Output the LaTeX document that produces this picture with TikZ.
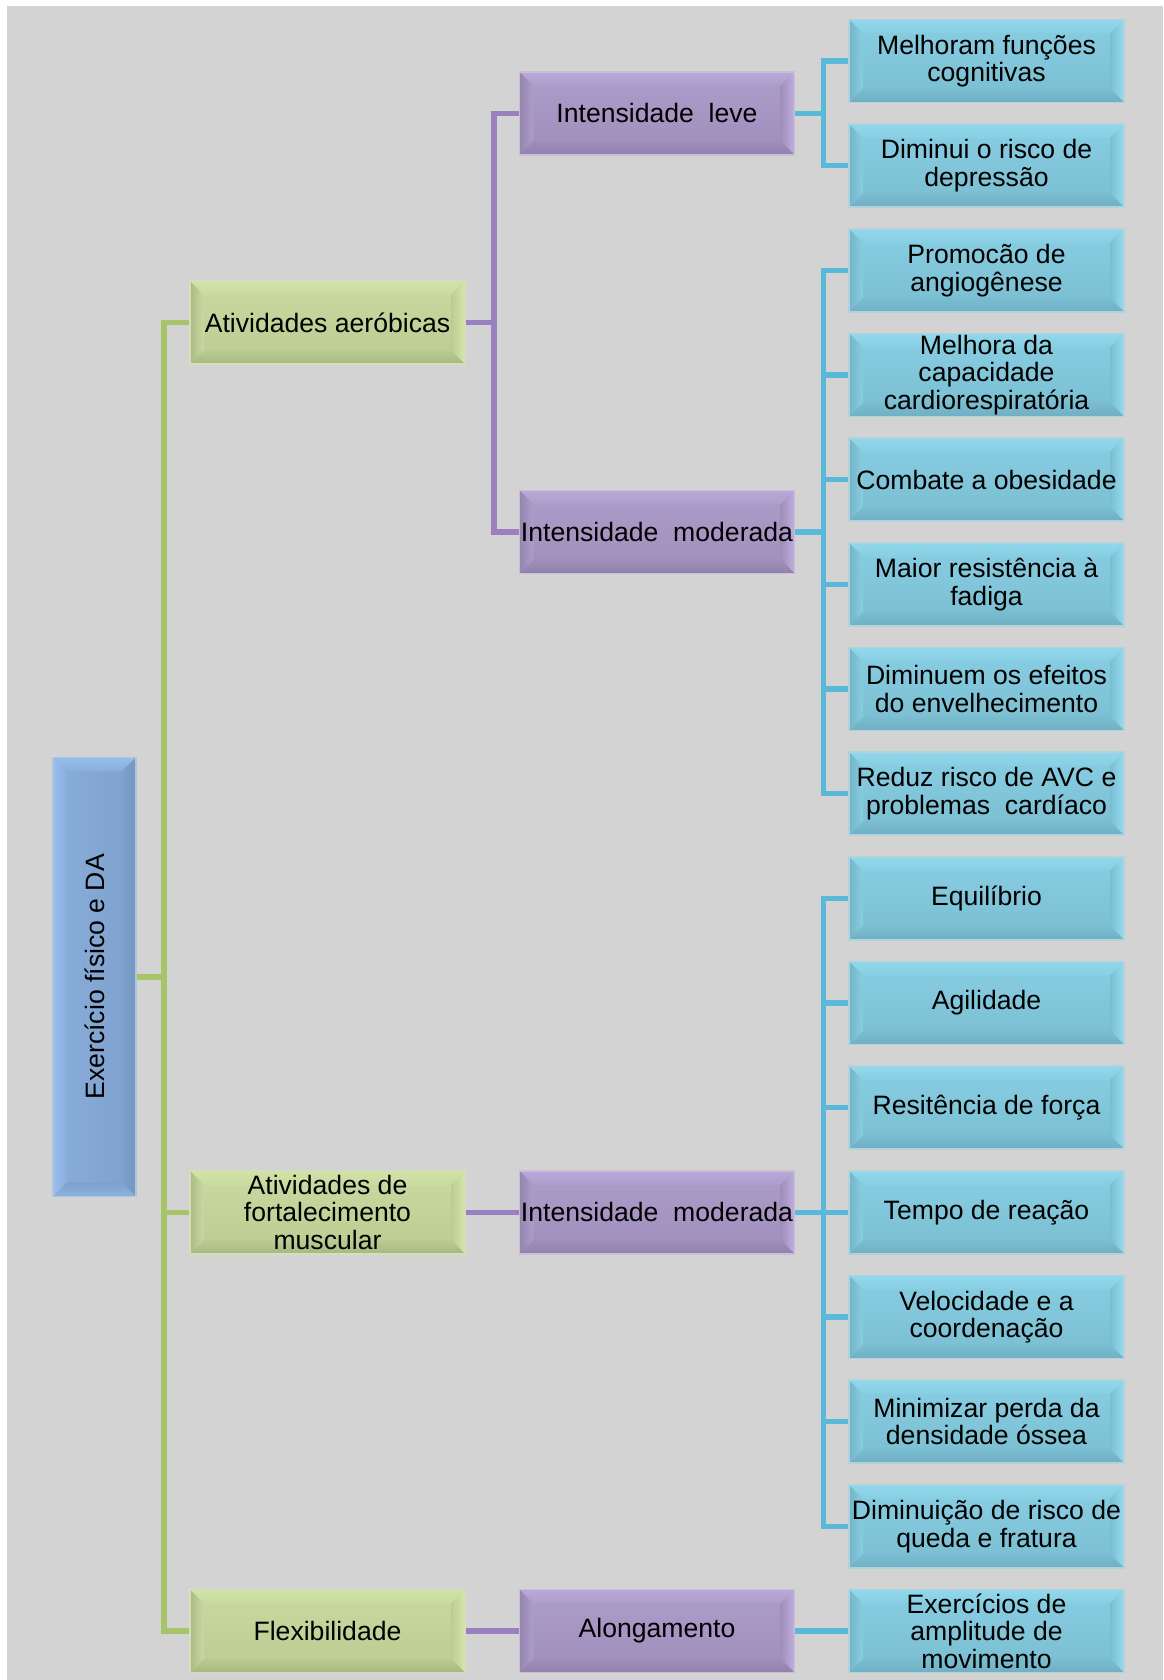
\documentclass[tikz,border=0pt]{standalone}
\usepackage{fontspec}
\setmainfont{Liberation Sans}
\usetikzlibrary{calc}
\definecolor{bgray}{HTML}{D3D3D3}
\definecolor{glinec}{HTML}{A8C46A}
\definecolor{plinec}{HTML}{9B80C0}
\definecolor{blinec}{HTML}{5AB8D8}
% blue
\definecolor{bMt}{HTML}{88CEE2}\definecolor{bMb}{HTML}{7ABDD1}
\definecolor{bT}{HTML}{91D8ED}\definecolor{bR}{HTML}{95DDF1}
\definecolor{bB}{HTML}{70AFC3}\definecolor{bL}{HTML}{73B4C8}
\definecolor{bBd}{HTML}{B2D2DC}
% purple
\definecolor{pMt}{HTML}{AD9DCB}\definecolor{pMb}{HTML}{9F8EBA}
\definecolor{pT}{HTML}{B9A9D8}\definecolor{pR}{HTML}{C0B0DF}
\definecolor{pB}{HTML}{9181AC}\definecolor{pL}{HTML}{9585AF}
\definecolor{pBd}{HTML}{CABFDA}
% green
\definecolor{gMt}{HTML}{C9DAA0}\definecolor{gMb}{HTML}{BBCC92}
\definecolor{gT}{HTML}{D2E3A6}\definecolor{gR}{HTML}{D6E7AA}
\definecolor{gB}{HTML}{A7B783}\definecolor{gL}{HTML}{AABA86}
\definecolor{gBd}{HTML}{D4DFB8}
% root
\definecolor{rMt}{HTML}{8AAEDB}\definecolor{rMb}{HTML}{7DA0CC}
\definecolor{rT}{HTML}{98BEEC}\definecolor{rR}{HTML}{7598C2}
\definecolor{rB}{HTML}{8DB2DE}\definecolor{rL}{HTML}{99BFEE}
\definecolor{rBd}{HTML}{AFC6E0}
\newlength{\bvd}\setlength{\bvd}{14pt}
\newcommand\bevelfaces[6]{%
  \path (path picture bounding box.north west) coordinate (bvA)
        (path picture bounding box.north east) coordinate (bvB)
        (path picture bounding box.south east) coordinate (bvC)
        (path picture bounding box.south west) coordinate (bvD);
  \shade[top color=#1, bottom color=#5] (bvA) -- (bvB) -- ([xshift=-\bvd,yshift=-\bvd]bvB) -- ([xshift=\bvd,yshift=-\bvd]bvA) -- cycle;
  \shade[left color=#6, right color=#2] (bvB) -- (bvC) -- ([xshift=-\bvd,yshift=\bvd]bvC) -- ([xshift=-\bvd,yshift=-\bvd]bvB) -- cycle;
  \shade[top color=#6, bottom color=#3] (bvC) -- (bvD) -- ([xshift=\bvd,yshift=\bvd]bvD) -- ([xshift=-\bvd,yshift=\bvd]bvC) -- cycle;
  \shade[left color=#4, right color=#5] (bvD) -- (bvA) -- ([xshift=\bvd,yshift=-\bvd]bvA) -- ([xshift=\bvd,yshift=\bvd]bvD) -- cycle;
}
\newcommand\fs{\fontsize{26.6pt}{27.6pt}\selectfont}
\tikzset{
  x=1pt, y=-1pt,
  box/.style={minimum width=275pt, minimum height=83pt, inner sep=0pt,
    align=center, font=\fs, line width=1.5pt, text=black},
  bluebox/.style={box, draw=bBd, top color=bMt, bottom color=bMb,
    path picture={\bevelfaces{bT}{bR}{bB}{bL}{bMt}{bMb}}},
  purplebox/.style={box, draw=pBd, top color=pMt, bottom color=pMb,
    path picture={\bevelfaces{pT}{pR}{pB}{pL}{pMt}{pMb}}},
  greenbox/.style={box, draw=gBd, top color=gMt, bottom color=gMb,
    path picture={\bevelfaces{gT}{gR}{gB}{gL}{gMt}{gMb}}},
  rootbox/.style={box, minimum width=83pt, minimum height=439pt, draw=rBd,
    left color=rMt, right color=rMb,
    path picture={\bevelfaces{rT}{rR}{rB}{rL}{rMt}{rMb}}},
  gline/.style={draw=glinec, line width=5.5pt},
  pline/.style={draw=plinec, line width=5.5pt},
  bline/.style={draw=blinec, line width=5.5pt},
}
\begin{document}
\begin{tikzpicture}
\useasboundingbox (0,0) rectangle (1163,1680);
\fill[white] (0,0) rectangle (1163,1680);
\fill[bgray] (7,6) rectangle (1163,1680);

% root
\node[rootbox] (root) at (94.5,976.8) {};
\node[font=\fs, rotate=90] (roottxt) at (root.center) {Exercício físico e DA};

% green
\node[greenbox] (g1) at (327.5,322.7) {Atividades aeróbicas};
\node[greenbox] (g2) at (327.5,1212.4) {Atividades de\\fortalecimento\\muscular};
\node[greenbox] (g3) at (327.5,1631) {Flexibilidade};

% purple
\node[purplebox] (p1) at (657,113.3) {Intensidade\ \ leve};
\node[purplebox] (p2) at (657,532) {Intensidade\ \ moderada};
\node[purplebox] (p3) at (657,1212.4) {Intensidade\ \ moderada};
\node[purplebox] (p4) at (657,1631) {Alongamento};

% blue
\node[bluebox] (b1) at (986.5,61) {Melhoram funções\\cognitivas};
\node[bluebox] (b2) at (986.5,165.67) {Diminui o risco de\\depressão};
\node[bluebox] (b3) at (986.5,270.33) {Promocão de\\angiogênese};
\node[bluebox] (b4) at (986.5,375) {Melhora da\\capacidade\\cardiorespiratória};
\node[bluebox] (b5) at (986.5,479.67) {Combate a obesidade};
\node[bluebox] (b6) at (986.5,584.33) {Maior resistência à\\fadiga};
\node[bluebox] (b7) at (986.5,689) {Diminuem os efeitos\\do envelhecimento};
\node[bluebox] (b8) at (986.5,793.67) {Reduz risco de AVC e\\problemas\ \ cardíaco};
\node[bluebox] (b9) at (986.5,898.33) {Equilíbrio};
\node[bluebox] (b10) at (986.5,1003) {Agilidade};
\node[bluebox] (b11) at (986.5,1107.67) {Resitência de força};
\node[bluebox] (b12) at (986.5,1212.33) {Tempo de reação};
\node[bluebox] (b13) at (986.5,1317) {Velocidade e a\\coordenação};
\node[bluebox] (b14) at (986.5,1421.67) {Minimizar perda da\\densidade óssea};
\node[bluebox] (b15) at (986.5,1526.33) {Diminuição de risco de\\queda e fratura};
\node[bluebox] (b16) at (986.5,1631) {Exercícios de\\amplitude de\\movimento};

% connectors
\foreach \g in {g1,g2,g3}
  \draw[gline] (root.east) -- ++(27,0) |- (\g.west);
\foreach \p in {p1,p2}
  \draw[pline] (g1.east) -- ++(28,0) |- (\p.west);
\draw[pline] (g2.east) -- (p3.west);
\draw[pline] (g3.east) -- (p4.west);
\foreach \b in {b1,b2}
  \draw[bline] (p1.east) -- ++(28,0) |- (\b.west);
\foreach \b in {b3,b4,b5,b6,b7,b8}
  \draw[bline] (p2.east) -- ++(28,0) |- (\b.west);
\foreach \b in {b9,b10,b11,b12,b13,b14,b15}
  \draw[bline] (p3.east) -- ++(28,0) |- (\b.west);
\draw[bline] (p4.east) -- (b16.west);
\end{tikzpicture}
\end{document}
